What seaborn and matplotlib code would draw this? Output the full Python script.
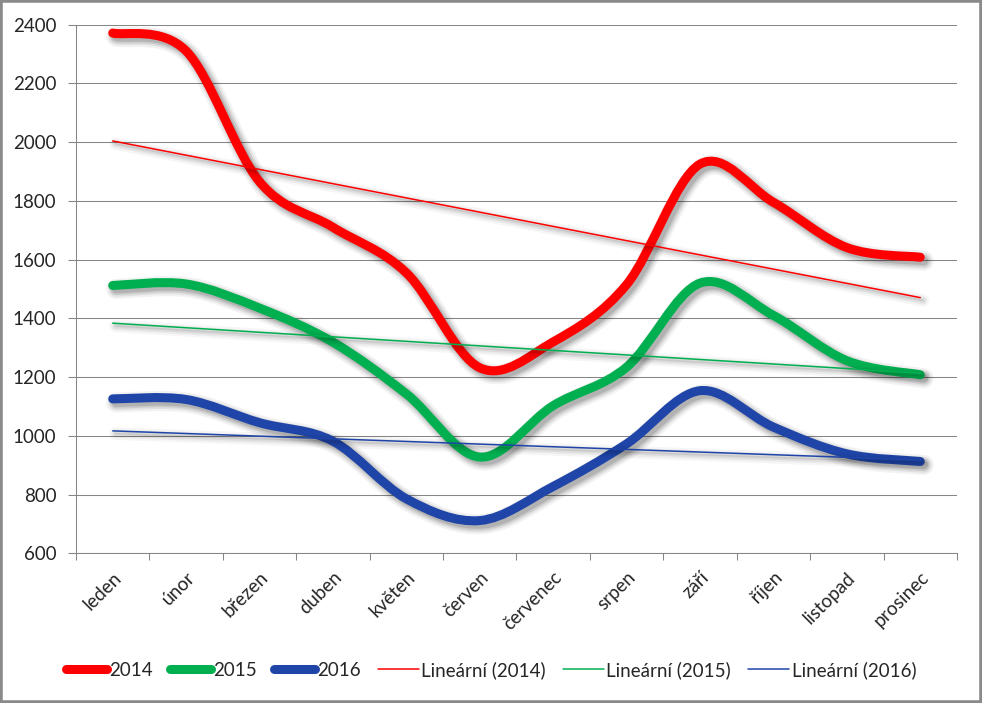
import numpy as np
import pandas as pd
import matplotlib
matplotlib.use("Agg")
import matplotlib.pyplot as plt
import matplotlib.patheffects as pe
from matplotlib.path import Path
from matplotlib.patches import PathPatch, Rectangle
from matplotlib.lines import Line2D
import seaborn as sns

# data
months = ['leden', 'únor', 'březen', 'duben', 'květen', 'červen',
          'červenec', 'srpen', 'září', 'říjen', 'listopad', 'prosinec']
values_2014 = [2371, 2310, 1865, 1710, 1555, 1232, 1320, 1515, 1925, 1795, 1641, 1608]
values_2015 = [1512, 1517, 1435, 1319, 1143, 928, 1103, 1234, 1520, 1410, 1256, 1208]
values_2016 = [1126, 1124, 1045, 982, 786, 712, 828, 973, 1154, 1030, 939, 913]
years = ['2014', '2015', '2016']
colors = ['#FF0000', '#00B050', '#1F45A8']

df = pd.DataFrame({'month': months, '2014': values_2014,
                   '2015': values_2015, '2016': values_2016})
df['idx'] = np.arange(len(months))

sns.set_style('white')
plt.rcParams['font.family'] = ['Lato', 'DejaVu Sans']

fig, ax = plt.subplots(figsize=(9.82, 7.03), dpi=100)
fig.subplots_adjust(left=0.0774, right=0.9745, top=0.9651, bottom=0.2127)
ax.set_xlim(-0.5, 11.5)
ax.set_ylim(600, 2400)


def smooth_path(x, y):
    # Excel-like smoothed line: Bezier through each point, tension 1/6,
    # control arm capped at half the segment length (in screen space)
    disp = ax.transData.transform(np.column_stack([x, y]).astype(float))
    n = len(disp)
    verts = [disp[0]]
    codes = [Path.MOVETO]
    for i in range(n - 1):
        p0 = disp[i - 1] if i > 0 else disp[i]
        p1 = disp[i]
        p2 = disp[i + 1]
        p3 = disp[i + 2] if i + 2 < n else disp[i + 1]
        d12 = np.hypot(*(p2 - p1))
        d02 = np.hypot(*(p2 - p0))
        d13 = np.hypot(*(p3 - p1))
        f1 = 1 / 6 if d02 / 6 < d12 / 2 else d12 / (2 * d02)
        f2 = 1 / 6 if d13 / 6 < d12 / 2 else d12 / (2 * d13)
        verts += [p1 + (p2 - p0) * f1, p2 - (p3 - p1) * f2, p2]
        codes += [Path.CURVE4] * 3
    return Path(ax.transData.inverted().transform(np.array(verts)), codes)


def shadow(lw, off=2.5, k=1.0):
    # soft drop shadow built from a few stacked translucent strokes
    layers = [(8, 0.05), (5, 0.07), (2.5, 0.09), (0, 0.12)]
    fx = [pe.SimpleLineShadow(offset=(off, -off), shadow_color='black',
                              alpha=a * k, linewidth=lw + w) for w, a in layers]
    return fx + [pe.Normal()]


# thick smoothed series
for year, col in zip(years, colors):
    patch = PathPatch(smooth_path(df['idx'], df[year]), fill=False,
                      edgecolor=col, lw=6.5, capstyle='round', joinstyle='round',
                      transform=ax.transData, zorder=2)
    patch.set_path_effects(shadow(6.5))
    ax.add_patch(patch)

# linear trendlines
for year, col in zip(years, colors):
    sns.regplot(data=df, x='idx', y=year, scatter=False, ci=None, color=col,
                line_kws=dict(lw=1.1, path_effects=shadow(1.1, 2, 0.7)), ax=ax)

ax.set_xlim(-0.5, 11.5)
ax.set_ylim(600, 2400)
ax.set_xlabel('')
ax.set_ylabel('')
ax.set_yticks(range(600, 2401, 200))
ax.set_axisbelow(True)
ax.yaxis.grid(True, color='#868686', lw=0.75)
ax.xaxis.grid(False)

ax.set_xticks(df['idx'])
ax.set_xticklabels(months, rotation=45, ha='right', rotation_mode='anchor', fontsize=13.5)
ax.set_xticks(np.arange(-0.5, 12, 1), minor=True)
ax.tick_params(axis='x', which='major', length=0, pad=11)
ax.tick_params(axis='x', which='minor', length=5, width=0.75, color='#868686', bottom=True)
ax.tick_params(axis='y', length=6, width=0.75, color='#868686', labelsize=13.5, pad=8, left=True)

for side in ['top', 'right']:
    ax.spines[side].set_visible(False)
for side in ['left', 'bottom']:
    ax.spines[side].set_color('#868686')
    ax.spines[side].set_linewidth(0.75)

handles = [Line2D([], [], color=c, lw=6.5, solid_capstyle='round') for c in colors]
handles += [Line2D([], [], color=c, lw=1.1) for c in colors]
labels = years + ['Lineární (%s)' % y for y in years]
fig.legend(handles, labels, loc='center', bbox_to_anchor=(0.5, 0.047), ncol=6,
           frameon=False, handlelength=2.2, handletextpad=0.12, columnspacing=0.9,
           fontsize=13.5)

fig.add_artist(Rectangle((0, 0), 1, 1, transform=fig.transFigure, fill=False,
                         ec='#8a8a8a', lw=4))

fig.savefig('out.png', dpi=100)
